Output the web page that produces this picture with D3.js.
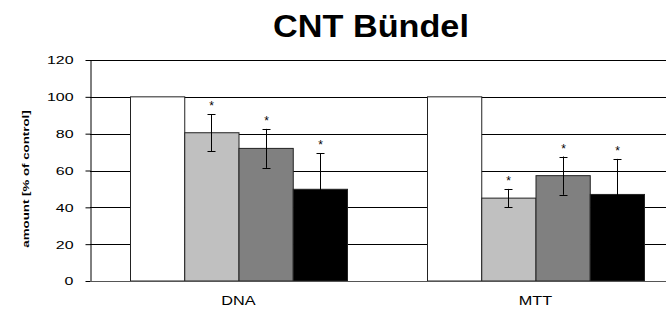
<!DOCTYPE html>
<html>
<head>
<meta charset="utf-8">
<script src="https://cdn.jsdelivr.net/npm/d3@7"></script>
<style>
  body { margin: 0; background: #fff; }
  svg { display: block; font-family: "Liberation Sans", Arial, sans-serif; }
</style>
</head>
<body>
<div id="chart"></div>
<script>
// data
let categories = ["DNA", "MTT"];
let series = ["control", "low", "mid", "high"];
let seriesColors = ["#ffffff", "#c0c0c0", "#808080", "#000000"];
let values = {
  control: [100, 100],
  low: [80.5, 45],
  mid: [72, 57.2],
  high: [49.8, 47]
};
let errors = {
  control: [0, 0],
  low: [10, 5],
  mid: [10.6, 10.4],
  high: [19.5, 19.3]
};
let significant = ["low", "mid", "high"];
let yTicks = [0, 20, 40, 60, 80, 100, 120];

let width = 666;
let height = 309;
let stretch = 1.45;   // the source fonts are drawn wide

let svg = d3.select("#chart").append("svg")
  .attr("width", width)
  .attr("height", height);

let y = d3.scaleLinear().domain([0, 120]).range([281, 60]);

// plot area runs past the right edge of the picture
let x = d3.scaleBand()
  .domain(categories)
  .range([90, 684])
  .paddingInner(80 / 297)
  .paddingOuter(40 / 297);

let xs = d3.scaleBand()
  .domain(series)
  .range([0, x.bandwidth()]);

// title
svg.append("text")
  .attr("transform", "translate(371,37) scale(1.07,1)")
  .attr("text-anchor", "middle")
  .style("font-size", "32px")
  .style("font-weight", "bold")
  .text("CNT Bündel");

// grid lines
svg.append("g")
  .selectAll("line")
  .data(yTicks.filter(d => d > 0))
  .enter()
  .append("line")
  .attr("x1", 90)
  .attr("x2", 684)
  .attr("y1", d => Math.round(y(d)) + 0.5)
  .attr("y2", d => Math.round(y(d)) + 0.5)
  .attr("stroke", "#000")
  .attr("stroke-width", 1);

// y axis
let yAxis = svg.append("g")
  .attr("transform", "translate(90.5,0)")
  .call(d3.axisLeft(y).tickValues(yTicks).tickSize(5).tickSizeOuter(0));

yAxis.select(".domain").attr("stroke", "#000");
yAxis.selectAll(".tick line").attr("stroke", "#000");
yAxis.selectAll(".tick text")
  .attr("x", null)
  .attr("transform", "translate(-17,0) scale(" + stretch + ",1)")
  .attr("dy", "0.35em")
  .style("font-size", "11px")
  .style("font-family", "'Liberation Sans', Arial, sans-serif")
  .attr("fill", "#000");

// y label
svg.append("text")
  .attr("transform", "translate(29,179) rotate(-90) scale(1.4,1)")
  .attr("text-anchor", "middle")
  .style("font-size", "9.5px")
  .style("font-weight", "bold")
  .text("amount [% of control]");

// bars
let groups = svg.append("g")
  .selectAll("g")
  .data(categories)
  .enter()
  .append("g")
  .attr("transform", d => "translate(" + x(d) + ",0)");

groups.selectAll("rect")
  .data((c, i) => series.map((s, j) => ({ s: s, color: seriesColors[j], v: values[s][i], e: errors[s][i] })))
  .enter()
  .append("rect")
  .attr("x", d => xs(d.s) + 0.5)
  .attr("y", d => y(d.v))
  .attr("width", xs.bandwidth())
  .attr("height", d => y(0) - y(d.v))
  .attr("fill", d => d.color)
  .attr("stroke", "#222")
  .attr("stroke-width", 1);

// error bars
let errs = groups.selectAll(".err")
  .data((c, i) => significant.map(s => ({ s: s, v: values[s][i], e: errors[s][i] })))
  .enter()
  .append("g")
  .attr("class", "err")
  .attr("transform", d => "translate(" + (Math.round(xs(d.s) + xs.bandwidth() / 2) + 0.5) + ",0)");

errs.append("line")
  .attr("y1", d => y(d.v - d.e))
  .attr("y2", d => y(d.v + d.e))
  .attr("stroke", "#000");

errs.append("line")
  .attr("x1", -4).attr("x2", 4)
  .attr("y1", d => Math.round(y(d.v + d.e)) + 0.5)
  .attr("y2", d => Math.round(y(d.v + d.e)) + 0.5)
  .attr("stroke", "#000");

errs.append("line")
  .attr("x1", -4).attr("x2", 4)
  .attr("y1", d => Math.round(y(d.v - d.e)) + 0.5)
  .attr("y2", d => Math.round(y(d.v - d.e)) + 0.5)
  .attr("stroke", "#000");

// significance stars
errs.append("text")
  .attr("y", d => y(d.v + d.e) - 4)
  .attr("text-anchor", "middle")
  .style("font-size", "12px")
  .text("*");

// x axis line and labels
svg.append("line")
  .attr("x1", 90).attr("x2", 684)
  .attr("y1", Math.round(y(0)) + 0.5).attr("y2", Math.round(y(0)) + 0.5)
  .attr("stroke", "#555");

svg.append("g")
  .selectAll("text")
  .data(categories)
  .enter()
  .append("text")
  .attr("transform", d => "translate(" + (x(d) + x.bandwidth() / 2) + ",305) scale(1.25,1)")
  .attr("text-anchor", "middle")
  .style("font-size", "13px")
  .text(d => d);
</script>
</body>
</html>
